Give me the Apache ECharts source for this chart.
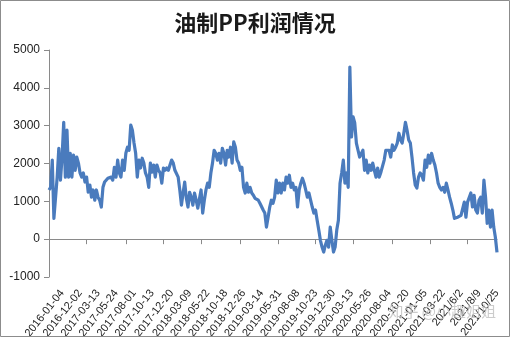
<!DOCTYPE html>
<html>
<head>
<meta charset="utf-8">
<script src="https://cdn.jsdelivr.net/npm/echarts@6/dist/echarts.min.js"></script>
<style>
html,body{margin:0;padding:0;background:#fff;}
#chart{width:510px;height:337px;}
</style>
</head>
<body>
<div id="chart"></div>
<script>
// tick labels on the category axis (dates)
const dateLabels = ['2016-01-04','2016-12-02','2017-03-13','2017-05-24','2017-08-01','2017-10-13','2017-12-20','2018-03-09','2018-05-22','2018-10-18','2018-12-26','2019-03-14','2019-05-31','2019-08-08','2019-10-23','2019-12-30','2020-03-13','2020-05-26','2020-08-04','2020-10-20','2021-01-05','2021-03-22','2021/6/2','2021/8/9','2021/10/25'];
// y-axis ticks
const yTicks = [-1000, 0, 1000, 2000, 3000, 4000, 5000];
// 油制PP利润 (元/吨) in chronological order
const profit2016_17 = [1300,1370,2090,550,500,1640,2400,1560,2170,3090,1640,2880,1640,2270,1640,2220,1820,2170,2010,1750,1640,1750,1510,1640,1240,1430,1110,1300,1030,1300,1110,1030,850,1370,1510,1480,1610,1560,1640,1560,1900,1640,2090,1750,1640,2090];
const profit2017_18 = [1820,2270,2430,2350,3015,2880,2540,2270,1640,2090,1880,2140,2010,1750,1640,1370,2010,1770,1960,1640,1960,1820,1750,1480,1880,1820,1880,1820,1960,2090,2010,1820,1770,1640,1300,900,1220,1510,1080,850,1240,1110,900,1220,1030,820,770];
const profit2018_19 = [1300,690,1030,1300,1480,1370,1750,2010,2350,2270,2090,2270,2010,2400,2270,1960,2350,2170,2430,2010,2570,2430,2090,2010,1820,1900,1370,1220,1480,1240,1370,1220,1160,1080,1110,1030,950,980,770,690,320,580,850,1030,950,1110,1560];
const profit2019_20 = [1220,1480,1220,1480,1300,1640,1480,1690,1370,1480,1300,1370,850,1300,1480,1610,1480,1300,1110,1220,1030,850,690,770,500,240,-30,-210,-340,-160,-30,-210,320,-30,-340,-210,240,500,1480,1750,2090,1480,1750,1370,4550,2700];
const profit2020_21 = [3230,3070,2540,2350,2170,2140,2350,1820,2090,1750,1960,1820,2010,1820,1640,1880,1640,1770,1820,2090,2350,2300,2350,2170,2490,2350,2430,2540,2800,2620,2540,2800,3090,2880,2620,2540,2170,1750,1430,1350,1640,1750,1690,1560,2090];
const profit2021 = [1900,2220,2010,2270,2090,1960,1750,1480,1370,1300,1370,1240,1480,1300,1110,950,770,550,500,580,550,630,580,980,580,980,1030,1220,850,1160,770,690,1030,1110,690,1560,1110,420,770,320,770,320,50,-350];

const values = [].concat(profit2016_17, profit2017_18, profit2018_19, profit2019_20, profit2020_21, profit2021);
const n = values.length;
// label i sits at category index firstLabel + i*labelStep; ticks every tickStep categories
const firstLabel = 8;
const labelStep = (n - 1 - firstLabel) / (dateLabels.length - 1);
const tickStep = 23.3;
const cats = new Array(n).fill('');
const labelIdx = new Set();
dateLabels.forEach((d, i) => {
  const k = Math.round(firstLabel + i * labelStep);
  cats[k] = d;
  labelIdx.add(k);
});
const tickIdx = new Set();
for (let j = 0; j * tickStep <= n - 1; j++) tickIdx.add(Math.round(j * tickStep));

const chart = echarts.init(document.getElementById('chart'), null, {renderer: 'canvas'});
chart.setOption({
  animation: false,
  backgroundColor: '#fff',
  title: {
    text: '油制PP利润情况',
    left: 'center',
    top: 12,
    padding: 0,
    textStyle: {fontSize: 22, fontWeight: 'bold', color: '#1a1a1a', fontFamily: 'Noto Sans CJK SC'}
  },
  grid: {left: 49, right: 13, top: 50, bottom: 60, containLabel: false, outerBoundsMode: 'none'},
  xAxis: {
    type: 'category',
    data: cats,
    boundaryGap: false,
    axisLine: {onZero: true, lineStyle: {color: '#8a8a8a', width: 1}},
    axisTick: {show: true, length: 5, interval: (i) => tickIdx.has(i), lineStyle: {color: '#8a8a8a'}},
    axisLabel: {
      interval: (i) => labelIdx.has(i),
      rotate: 52,
      margin: 14,
      color: '#222',
      fontSize: 11,
      fontFamily: 'Liberation Sans',
      hideOverlap: false
    },
    splitLine: {show: false}
  },
  yAxis: {
    type: 'value',
    min: yTicks[0],
    max: yTicks[yTicks.length - 1],
    interval: 1000,
    axisLine: {show: true, lineStyle: {color: '#8a8a8a', width: 1}},
    axisTick: {show: true, length: 5, lineStyle: {color: '#8a8a8a'}},
    axisLabel: {margin: 9, color: '#222', fontSize: 12, fontFamily: 'Liberation Sans', formatter: (v) => String(v)},
    splitLine: {show: false}
  },
  series: [{
    type: 'line',
    data: values,
    showSymbol: false,
    symbol: 'none',
    lineStyle: {color: '#4a7bbd', width: 3.2, join: 'round'},
    itemStyle: {color: '#4a7bbd'}
  }],
  graphic: [
    {type: 'text', right: 14, top: 304, z: 100,
     style: {text: '知乎 @小趣姐姐', fill: 'rgba(195,195,195,0.85)', font: '15px "Noto Sans CJK SC"'}},
    {type: 'rect', shape: {x: 0.5, y: 0.5, width: 509, height: 336}, z: 100,
     style: {fill: 'none', stroke: '#8c8c8c', lineWidth: 1}}
  ]
});
</script>
</body>
</html>
